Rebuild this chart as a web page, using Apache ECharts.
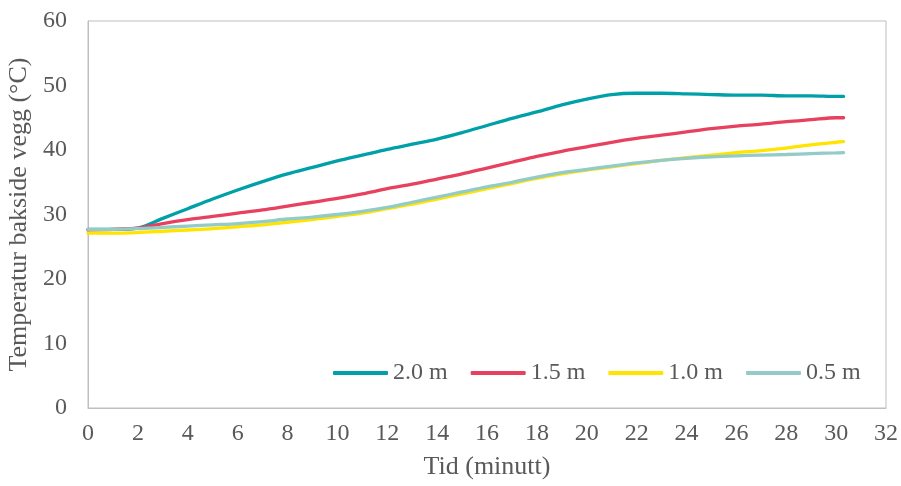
<!DOCTYPE html>
<html>
<head>
<meta charset="utf-8">
<script src="https://cdn.jsdelivr.net/npm/echarts@6/dist/echarts.min.js"></script>
<style>
    html, body { margin: 0; padding: 0; background: #fff; }
    #chart { width: 901px; height: 486px; }
</style>
</head>
<body>
<div id="chart"></div>
<script>
'use strict';
// tid (minutt)
const tid = [0, 1, 2, 3, 4, 5, 6, 7, 8, 9, 10, 11, 12, 13, 14, 15, 16, 17, 18, 19, 20,
    21, 22, 23, 24, 25, 26, 27, 28, 29, 30, 30.3];

// temperatur bakside vegg per høyde
const t20 = [27.7, 27.7, 27.9, 29.4, 30.9, 32.4, 33.8, 35.1, 36.3, 37.3, 38.3, 39.2, 40.1, 40.9, 41.7, 42.7,
    43.8, 44.9, 45.9, 47.0, 47.9, 48.6, 48.8, 48.8, 48.7, 48.6, 48.5, 48.5, 48.4, 48.4, 48.3, 48.3];
const t15 = [27.6, 27.7, 27.9, 28.6, 29.2, 29.7, 30.2, 30.7, 31.3, 31.9, 32.5, 33.2, 34.0, 34.7, 35.5, 36.3,
    37.2, 38.1, 39.0, 39.8, 40.5, 41.2, 41.8, 42.3, 42.8, 43.3, 43.7, 44.0, 44.4, 44.7, 45.0, 45.0];
const t10 = [27.1, 27.1, 27.2, 27.4, 27.6, 27.8, 28.1, 28.4, 28.8, 29.2, 29.7, 30.2, 30.9, 31.6, 32.4, 33.2,
    34.0, 34.8, 35.6, 36.3, 36.9, 37.4, 37.9, 38.4, 38.8, 39.2, 39.6, 39.9, 40.3, 40.8, 41.2, 41.3];
const t05 = [27.7, 27.7, 27.8, 28.0, 28.2, 28.4, 28.6, 28.9, 29.3, 29.6, 30.0, 30.5, 31.1, 31.9, 32.7, 33.5,
    34.3, 35.0, 35.8, 36.5, 37.0, 37.5, 38.0, 38.4, 38.7, 38.95, 39.1, 39.2, 39.3, 39.45, 39.55, 39.6];

const seriesNames = ['2.0 m', '1.5 m', '1.0 m', '0.5 m'];
const seriesColors = ['#00a0a8', '#e8405f', '#ffe400', '#92cbc8'];
const seriesData = [t20, t15, t10, t05];

const serif = '"Liberation Serif", "Times New Roman", serif';
const textGrey = '#595959';

let myChart = echarts.init(document.getElementById('chart'));

let series = seriesData.map(function(vals, i) {
    return {
        name: seriesNames[i],
        type: 'line',
        smooth: 0.3,
        symbol: 'none',
        data: vals.map(function(v, k) { return [tid[k], v]; }),
        lineStyle: { width: 3.3, color: seriesColors[i], cap: 'round' },
        itemStyle: { color: seriesColors[i] }
    };
});

let option = {
    animation: false,
    backgroundColor: '#fff',
    grid: {
        left: 88,
        right: 15,
        top: 21,
        bottom: 78,
        outerBoundsMode: 'none',
        containLabel: false,
        show: true,
        borderColor: '#bfbfbf',
        borderWidth: 1
    },
    legend: {
        data: seriesNames.map(function(n) { return { name: n, icon: 'roundRect' }; }),
        left: 333,
        top: 361,
        padding: 0,
        itemWidth: 55,
        itemHeight: 4,
        itemGap: 23,
        textStyle: { fontFamily: serif, fontSize: 24, color: textGrey }
    },
    xAxis: {
        type: 'value',
        min: 0,
        max: 32,
        interval: 2,
        name: 'Tid (minutt)',
        nameLocation: 'middle',
        nameGap: 46,
        nameTextStyle: { fontFamily: serif, fontSize: 26, color: textGrey },
        axisLine: { show: true, lineStyle: { color: '#bfbfbf' } },
        axisTick: { show: false },
        splitLine: { show: false },
        axisLabel: { fontFamily: serif, fontSize: 24, color: textGrey, margin: 14 }
    },
    yAxis: {
        type: 'value',
        min: 0,
        max: 60,
        interval: 10,
        name: 'Temperatur bakside vegg (°C)',
        nameLocation: 'middle',
        nameGap: 50,
        nameTextStyle: { fontFamily: serif, fontSize: 26, color: textGrey },
        axisLine: { show: true, lineStyle: { color: '#bfbfbf' } },
        axisTick: { show: false },
        splitLine: { show: false },
        axisLabel: { fontFamily: serif, fontSize: 24, color: textGrey, margin: 21 }
    },
    series: series
};

myChart.setOption(option);
</script>
</body>
</html>
